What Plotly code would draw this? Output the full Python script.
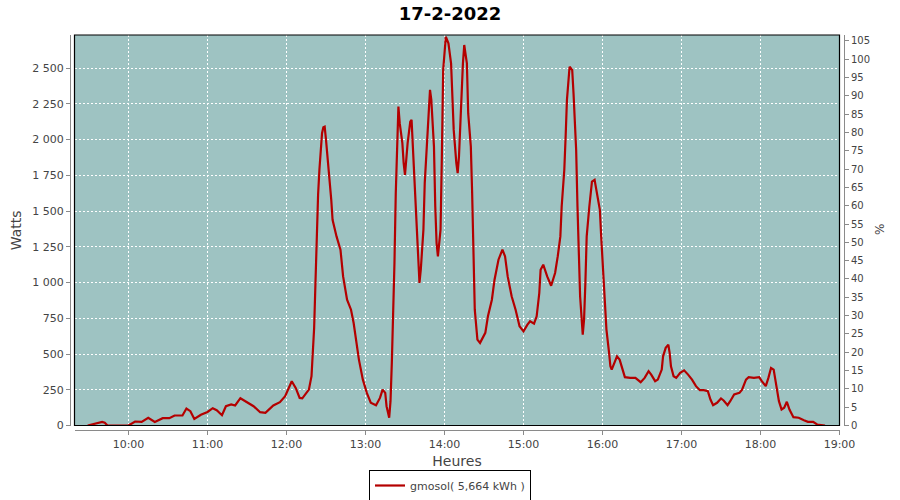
import plotly.graph_objects as go

DAY = "2022-02-17 "
title_text = "17-2-2022"
series_name = "gmosol( 5,664 kWh )"
left_title = "Watts"
right_title = "%"
x_title = "Heures"

times = [
    "09:29", "09:37", "09:40", "09:42", "09:44", "10:00", "10:05", "10:10", "10:15", "10:20",
    "10:26", "10:31", "10:35", "10:41", "10:44", "10:47", "10:50", "10:55", "11:00", "11:04",
    "11:07", "11:11", "11:14", "11:18", "11:21", "11:25", "11:30", "11:35", "11:40", "11:44",
    "11:50", "11:55", "11:59", "12:02", "12:04", "12:07", "12:10", "12:12", "12:15", "12:17",
    "12:19", "12:20", "12:21", "12:22", "12:23", "12:24", "12:25", "12:26", "12:27", "12:28",
    "12:29", "12:30", "12:31", "12:32", "12:34", "12:35", "12:38", "12:41", "12:43", "12:46",
    "12:49", "12:51", "12:53", "12:55", "12:58", "13:01", "13:04", "13:08", "13:11", "13:13",
    "13:15", "13:16", "13:18", "13:19", "13:20", "13:21", "13:22", "13:23", "13:24", "13:25",
    "13:26", "13:28", "13:29", "13:30", "13:32", "13:34", "13:35", "13:36", "13:37", "13:39",
    "13:41", "13:42", "13:44", "13:45", "13:47", "13:49", "13:50", "13:52", "13:53", "13:54",
    "13:55", "13:57", "13:58", "13:59", "14:01", "14:03", "14:05", "14:06", "14:07", "14:09",
    "14:10", "14:11", "14:12", "14:14", "14:15", "14:17", "14:18", "14:20", "14:21", "14:22",
    "14:23", "14:25", "14:27", "14:31", "14:33", "14:36", "14:38", "14:41", "14:44", "14:46",
    "14:48", "14:51", "14:54", "14:57", "15:00", "15:03", "15:05", "15:08", "15:10", "15:12",
    "15:13", "15:15", "15:18", "15:21", "15:24", "15:26", "15:28", "15:29", "15:31", "15:32",
    "15:33", "15:35", "15:37", "15:38", "15:39", "15:40", "15:41", "15:42", "15:43", "15:45",
    "15:46", "15:47", "15:48", "15:50", "15:52", "15:54", "15:56", "15:58", "15:59", "16:00",
    "16:02", "16:03", "16:05", "16:06", "16:07", "16:09", "16:11", "16:13", "16:15", "16:17",
    "16:21", "16:25", "16:29", "16:32", "16:35", "16:37", "16:40", "16:42", "16:45", "16:46",
    "16:48", "16:50", "16:51", "16:52", "16:54", "16:56", "16:59", "17:02", "17:05", "17:08",
    "17:11", "17:14", "17:17", "17:20", "17:22", "17:24", "17:27", "17:30", "17:32", "17:35",
    "17:37", "17:40", "17:44", "17:46", "17:49", "17:51", "17:55", "17:59", "18:01", "18:04",
    "18:06", "18:08", "18:10", "18:12", "18:14", "18:16", "18:18", "18:20", "18:22", "18:25",
    "18:29", "18:33", "18:36", "18:40", "18:43", "18:49",
]

watts = [
    0, 20, 25, 20, 0, 0, 28, 25, 54, 25,
    51, 51, 70, 70, 119, 100, 46, 75, 95, 121,
    107, 72, 135, 147, 140, 191, 165, 135, 93, 88,
    140, 163, 205, 275, 310, 263, 193, 190, 228, 251,
    345, 484, 682, 997, 1416, 1614, 1789, 1963, 2045, 2087,
    2091, 2000, 1900, 1800, 1579, 1439, 1323, 1230, 1043, 880,
    810, 717, 578, 461, 321, 228, 159, 142, 193, 251,
    228, 135, 54, 170, 438, 764, 1137, 1626, 1975, 2231,
    2115, 1975, 1835, 1754, 1975, 2126, 2138, 1951, 1719, 1370,
    997, 1090, 1370, 1696, 2068, 2348, 2278, 1951, 1532, 1276,
    1183, 1370, 1882, 2487, 2720, 2674, 2534, 2301, 2068, 1835,
    1766, 1882, 2115, 2534, 2662, 2534, 2185, 1951, 1626, 1113,
    810, 601, 578, 648, 764, 880, 1020, 1160, 1230, 1183,
    1043, 904, 810, 694, 659, 706, 729, 713, 764, 927,
    1090, 1125, 1043, 978, 1067, 1183, 1323, 1532, 1789, 2022,
    2278, 2510, 2487, 2324, 2115, 1928, 1532, 1230, 904, 636,
    741, 997, 1323, 1532, 1707, 1719, 1602, 1509, 1323, 1137,
    857, 671, 508, 414, 391, 438, 484, 461, 391, 338,
    333, 333, 303, 333, 380, 356, 310, 321, 391, 484,
    543, 566, 508, 414, 345, 333, 368, 386, 356, 321,
    275, 247, 247, 240, 182, 142, 159, 189, 175, 142,
    170, 217, 228, 251, 321, 338, 333, 338, 310, 275,
    333, 403, 391, 275, 170, 112, 124, 166, 112, 58,
    54, 37, 26, 26, 7, 0,
]

watt_ticks = [0, 250, 500, 750, 1000, 1250, 1500, 1750, 2000, 2250, 2500]
pct_ticks = list(range(0, 110, 5))

x_vals = [DAY + t for t in times]

LINE = "#B40000"
GRID = "#FFFFFF"
AXIS = "#8A8A8A"
TXT = "#444444"
FONT = "DejaVu Sans"

fig = go.Figure()
fig.add_trace(go.Scatter(
    x=x_vals, y=watts, mode="lines", name=series_name,
    line=dict(color=LINE, width=2.2), xaxis="x", yaxis="y",
))
fig.add_trace(go.Scatter(
    x=[], y=[], mode="lines", showlegend=False, hoverinfo="skip",
    xaxis="x", yaxis="y2",
))

W, H = 900, 500
ml, mr, mt, mb = 70, 56, 35, 70
pw = W - ml - mr
ph = H - mt - mb
gap = 4.5

fig.update_layout(
    width=W, height=H,
    margin=dict(l=ml, r=mr, t=mt, b=mb, pad=0, autoexpand=False),
    paper_bgcolor="white",
    plot_bgcolor="#9EC3C2",
    separators=", ",
    font=dict(family=FONT, size=11, color=TXT),
    title=dict(text="<b>" + title_text + "</b>", x=0.5, xanchor="center",
               y=1 - 14 / H, yanchor="middle",
               font=dict(family=FONT, size=18, color="#000000")),
    xaxis=dict(
        type="date",
        domain=[gap / pw, 1 - gap / pw],
        anchor="free", position=0,
        range=[DAY + "09:19", DAY + "19:00"],
        tick0=DAY + "10:00", dtick=3600000, tickformat="%H:%M",
        showgrid=True, gridcolor=GRID, griddash="2px,2px", gridwidth=1,
        showline=True, linecolor=AXIS, linewidth=1,
        ticks="outside", ticklen=4, tickcolor=AXIS,
        tickfont=dict(size=11, color=TXT),
        title=dict(text=x_title, font=dict(size=14, color=TXT), standoff=5),
        zeroline=False, automargin=False,
    ),
    yaxis=dict(
        domain=[gap / ph, 1],
        anchor="free", position=0,
        range=[0, 2732],
        tickvals=watt_ticks, tickformat=",d",
        showgrid=True, gridcolor=GRID, griddash="2px,2px", gridwidth=1,
        showline=True, linecolor=AXIS, linewidth=1,
        ticks="outside", ticklen=4, tickcolor=AXIS,
        tickfont=dict(size=11, color=TXT),
        title=dict(text=left_title, font=dict(size=14, color=TXT), standoff=6),
        zeroline=False, automargin=False,
    ),
    yaxis2=dict(
        overlaying="y", side="right",
        anchor="free", position=1,
        range=[0, 106.6],
        tickvals=pct_ticks,
        showgrid=False,
        showline=True, linecolor=AXIS, linewidth=1,
        ticks="outside", ticklen=4, tickcolor=AXIS,
        tickfont=dict(size=10, color=TXT),
        zeroline=False, automargin=False,
    ),
    legend=dict(
        orientation="h", x=(450 - ml) / pw, xanchor="center",
        y=-(470 - 430) / ph, yanchor="top",
        bordercolor="#000000", borderwidth=1,
        font=dict(family=FONT, size=11, color=TXT),
        itemwidth=30, tracegroupgap=0,
    ),
    showlegend=True,
)

fig.add_annotation(
    text=right_title, xref="paper", yref="paper",
    x=(880 - ml) / pw, y=(430 - 230) / ph,
    xanchor="center", yanchor="middle", showarrow=False, textangle=-90,
    font=dict(family=FONT, size=12, color=TXT),
)

fig.add_shape(type="rect", xref="x domain", yref="y domain",
              x0=0, x1=1, y0=0, y1=1,
              line=dict(color="#000000", width=1.2), layer="above")

# remove the browser's default 8px page margin so the 900x500 figure fills the window
fig.write_html("out.html", config={"displayModeBar": False},
               post_script="document.body.style.margin='0px';")
